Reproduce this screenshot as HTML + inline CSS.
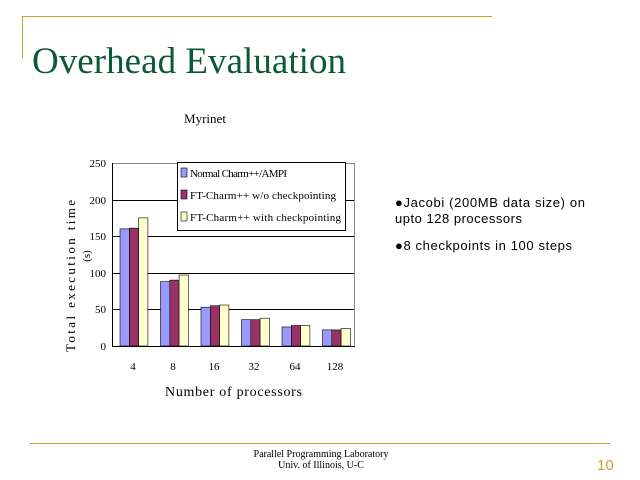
<!DOCTYPE html>
<html><head><meta charset="utf-8"><style>
body{margin:0;background:#fff;width:640px;height:480px;overflow:hidden;position:relative}
.a{position:absolute}
</style></head><body>
<svg class="a" style="left:0;top:0" width="640" height="480" xmlns="http://www.w3.org/2000/svg">
<line x1="22" y1="16.5" x2="492" y2="16.5" stroke="#c9a227" stroke-width="1"/>
<line x1="22.5" y1="16" x2="22.5" y2="58" stroke="#c9a227" stroke-width="1"/>
<text x="32" y="73" font-family="Liberation Serif" font-size="37" fill="#0b5a36" textLength="314">Overhead Evaluation</text>
<line x1="30" y1="443.5" x2="610" y2="443.5" stroke="#c9a227"/>
<text x="321" y="457" font-family="Liberation Serif" font-size="10" text-anchor="middle">Parallel Programming Laboratory</text>
<text x="321" y="468" font-family="Liberation Serif" font-size="10" text-anchor="middle">Univ. of Illinois, U-C</text>
<text x="597" y="470" font-family="Liberation Sans" font-size="15" fill="#c9a227">10</text>
<text x="205" y="123" font-family="Liberation Serif" font-size="13" text-anchor="middle">Myrinet</text>
<g stroke="#000" stroke-width="1">
<line x1="112" y1="163.5" x2="355" y2="163.5"/>
<line x1="112" y1="200.5" x2="355" y2="200.5"/>
<line x1="112" y1="236.5" x2="355" y2="236.5"/>
<line x1="112" y1="273.5" x2="355" y2="273.5"/>
<line x1="112" y1="309.5" x2="355" y2="309.5"/>
<rect x="112.5" y="163.5" width="242" height="183" fill="none" stroke="#888"/>
<line x1="112.5" y1="163" x2="112.5" y2="346"/>
<line x1="112" y1="346.5" x2="355" y2="346.5"/>
</g>
<g font-family="Liberation Serif" font-size="11" text-anchor="end">
<text x="106" y="167">250</text><text x="106" y="204">200</text><text x="106" y="240">150</text>
<text x="106" y="277">100</text><text x="106" y="313">50</text><text x="106" y="350">0</text>
</g>
<g stroke="#000" stroke-width="0.6" id="bars"></g>
<g font-family="Liberation Serif" font-size="11" text-anchor="middle">
<text x="133" y="370">4</text><text x="173" y="370">8</text><text x="214" y="370">16</text>
<text x="254" y="370">32</text><text x="295" y="370">64</text><text x="335" y="370">128</text>
</g>
<text x="165" y="396" font-family="Liberation Serif" font-size="14" textLength="137">Number of processors</text>
<text transform="translate(75,352) rotate(-90)" font-family="Liberation Serif" font-size="13" textLength="152">Total execution time</text>
<text transform="translate(90,256) rotate(-90)" font-family="Liberation Serif" font-size="11" text-anchor="middle">(s)</text>
<rect x="177.5" y="162.5" width="168" height="68" fill="#fff" stroke="#000"/>
<rect x="181" y="168" width="6" height="9" fill="#9999ff" stroke="#000" stroke-width="0.6"/>
<rect x="181" y="190" width="6" height="9" fill="#993366" stroke="#000" stroke-width="0.6"/>
<rect x="181" y="212" width="6" height="9" fill="#ffffcc" stroke="#000" stroke-width="0.6"/>
<g font-family="Liberation Serif" font-size="11">
<text x="190" y="177" textLength="97">Normal Charm++/AMPI</text>
<text x="190" y="199" textLength="146">FT-Charm++ w/o checkpointing</text>
<text x="190" y="221" textLength="151">FT-Charm++ with checkpointing</text>
</g>
<g font-family="Liberation Sans" font-size="13">
<text x="395" y="207" textLength="190">●Jacobi (200MB data size) on</text>
<text x="395" y="223" textLength="127">upto 128 processors</text>
<text x="395" y="250" textLength="177">●8 checkpoints in 100 steps</text>
</g>
</svg>
<script>
var d=[[160,161,175],[88,90,97],[53,55,56],[36,36,38],[26,28,28],[22,22,24]];
var c=["#9999ff","#993366","#ffffcc"],g=document.getElementById("bars"),s="";
for(var i=0;i<6;i++)for(var j=0;j<3;j++){var h=d[i][j]*0.732,x=120+i*40.5+j*9.3;
s+='<rect x="'+x+'" y="'+(346-h)+'" width="9.3" height="'+h+'" fill="'+c[j]+'"/>';}
g.innerHTML=s;
</script>
</body></html>
